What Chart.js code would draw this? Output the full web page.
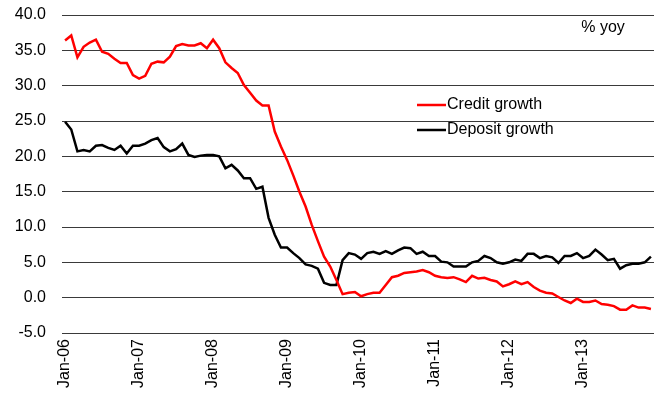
<!DOCTYPE html>
<html>
<head>
<meta charset="utf-8">
<script src="https://cdn.jsdelivr.net/npm/chart.js@4/dist/chart.umd.min.js"></script>
<style>
  html, body { margin: 0; padding: 0; background: #fff; }
  #wrap { width: 654px; height: 396px; position: relative; }
</style>
</head>
<body>
<div id="wrap"><canvas id="growthChart"></canvas></div>
<script>
const years = ['06', '07', '08', '09', '10', '11', '12', '13'];
const monthNames = ['Jan', 'Feb', 'Mar', 'Apr', 'May', 'Jun', 'Jul', 'Aug', 'Sep', 'Oct', 'Nov', 'Dec'];
const months = [];
years.forEach(y => monthNames.forEach(m => months.push(m + '-' + y)));

const yTicks = [-5, 0, 5, 10, 15, 20, 25, 30, 35, 40];

const creditGrowth = [
  36.4, 37.1, 34.0, 35.5, 36.1, 36.5, 34.8, 34.5, 33.8, 33.2, 33.2, 31.5,
  31.0, 31.4, 33.1, 33.4, 33.3, 34.1, 35.6, 35.9, 35.7, 35.7, 36.0, 35.3,
  36.5, 35.3, 33.3, 32.5, 31.8, 30.1, 29.0, 27.9, 27.2, 27.2, 23.5, 21.4,
  19.5, 17.3, 15.0, 12.9, 10.3, 8.0, 5.8, 4.4, 2.5, 0.5, 0.7, 0.8,
  0.2, 0.5, 0.7, 0.7, 1.8, 2.9, 3.1, 3.5, 3.6, 3.7, 3.9, 3.6,
  3.1, 2.9, 2.8, 2.9, 2.6, 2.2, 3.1, 2.7, 2.8, 2.5, 2.3, 1.6,
  1.9, 2.3, 1.9, 2.2, 1.5, 1.0, 0.7, 0.6, 0.1, -0.4, -0.75, -0.15,
  -0.6, -0.6, -0.4, -0.9, -1.0, -1.2, -1.7, -1.7, -1.1, -1.4, -1.4, -1.6
];

const depositGrowth = [
  24.9, 23.8, 20.7, 20.9, 20.7, 21.5, 21.6, 21.2, 20.9, 21.5, 20.4, 21.5,
  21.5, 21.8, 22.3, 22.6, 21.3, 20.7, 21.0, 21.8, 20.2, 19.9, 20.1, 20.2,
  20.2, 20.0, 18.3, 18.8, 18.0, 16.9, 16.9, 15.4, 15.7, 11.3, 8.9, 7.1,
  7.1, 6.3, 5.6, 4.7, 4.5, 4.1, 2.1, 1.8, 1.8, 5.3, 6.3, 6.1,
  5.5, 6.3, 6.5, 6.2, 6.6, 6.2, 6.7, 7.1, 7.0, 6.2, 6.5, 5.9,
  5.9, 5.1, 5.0, 4.4, 4.4, 4.4, 5.0, 5.2, 5.9, 5.6, 5.0, 4.8,
  5.0, 5.4, 5.2, 6.2, 6.2, 5.6, 5.9, 5.7, 4.9, 5.9, 5.9, 6.3,
  5.6, 5.9, 6.8, 6.1, 5.3, 5.5, 4.1, 4.6, 4.8, 4.8, 5.0, 5.8
];

const FONT = { family: 'Liberation Sans, Arial, sans-serif', size: 16 };

// legend and unit label drawn straight onto the canvas
const overlayText = {
  id: 'overlayText',
  afterDraw(chart) {
    const ctx = chart.ctx;
    ctx.save();
    ctx.font = FONT.size + 'px ' + FONT.family;
    ctx.fillStyle = '#000';
    ctx.textBaseline = 'middle';
    ctx.textAlign = 'center';
    ctx.fillText('% yoy', 603, 28);

    ctx.textAlign = 'left';
    chart.data.datasets.forEach((ds, i) => {
      const y = 105 + i * 25;
      ctx.strokeStyle = ds.borderColor;
      ctx.lineWidth = 2.5;
      ctx.beginPath();
      ctx.moveTo(417, y);
      ctx.lineTo(446, y);
      ctx.stroke();
      ctx.fillText(ds.label, 447, y);
    });
    ctx.restore();
  }
};

new Chart(document.getElementById('growthChart').getContext('2d'), {
  type: 'line',
  data: {
    labels: months,
    datasets: [
      {
        label: 'Credit growth',
        data: creditGrowth,
        borderColor: '#ff0000',
        borderWidth: 2.5,
        pointRadius: 0,
        tension: 0,
        fill: false
      },
      {
        label: 'Deposit growth',
        data: depositGrowth,
        borderColor: '#000000',
        borderWidth: 2.5,
        pointRadius: 0,
        tension: 0,
        fill: false
      }
    ]
  },
  options: {
    responsive: true,
    maintainAspectRatio: false,
    animation: false,
    layout: { padding: { top: 15, right: 0, left: 0, bottom: 0 } },
    plugins: {
      legend: { display: false },
      tooltip: { enabled: false }
    },
    scales: {
      x: {
        offset: true,
        grid: { display: false, drawTicks: false },
        border: { display: false },
        ticks: {
          autoSkip: false,
          maxRotation: 90,
          minRotation: 90,
          padding: 6,
          color: '#000',
          font: FONT,
          callback: (val, i) => (i % 12 === 0 ? months[i] : '')
        },
        afterFit: scale => {
          scale.height = 63;
          scale.paddingLeft = 0;
          scale.paddingRight = 0;
        }
      },
      y: {
        min: -5,
        max: 40,
        afterBuildTicks: scale => { scale.ticks = yTicks.map(v => ({ value: v })); },
        grid: { color: '#3a3a3a', lineWidth: 1, drawTicks: false },
        border: { display: false },
        ticks: {
          padding: 16,
          color: '#000',
          font: FONT,
          callback: v => v.toFixed(1)
        },
        afterFit: scale => {
          scale.width = 62;
          scale.paddingTop = 0;
          scale.paddingBottom = 0;
        }
      }
    }
  },
  plugins: [overlayText]
});
</script>
</body>
</html>
